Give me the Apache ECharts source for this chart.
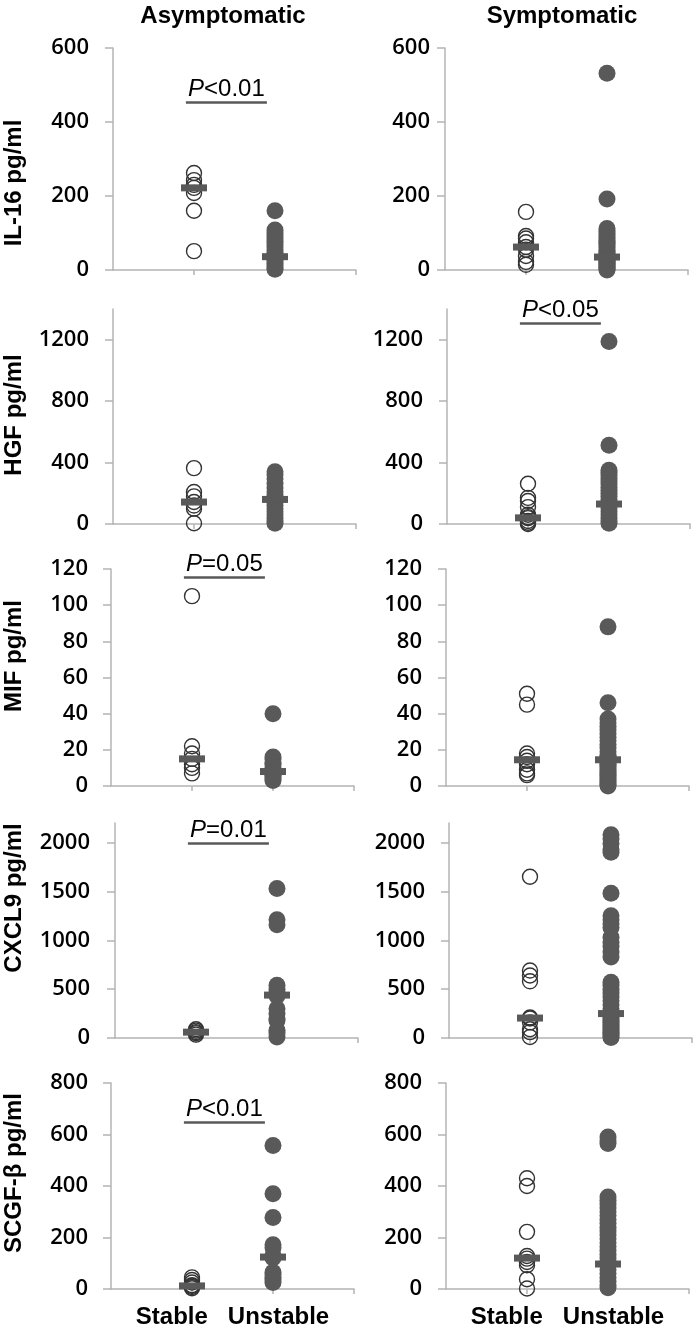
<!DOCTYPE html>
<html>
<head>
<meta charset="utf-8">
<script src="https://cdn.jsdelivr.net/npm/echarts@6/dist/echarts.min.js"></script>
<style>
html,body{margin:0;padding:0;background:#fff;}
#chart{width:697px;height:1331px;}
</style>
</head>
<body>
<div id="chart"></div>
<script>
// ---------- DATA ----------
const panelTitles = ['Asymptomatic', 'Symptomatic'];
const groups = ['Stable', 'Unstable'];
const markers = ['IL-16 pg/ml', 'HGF pg/ml', 'MIF pg/ml', 'CXCL9 pg/ml', 'SCGF-β pg/ml'];
const yMax = [600, 1400, 120, 2200, 800];
const yTicks = [
  [0, 200, 400, 600],
  [0, 400, 800, 1200],
  [0, 20, 40, 60, 80, 100, 120],
  [0, 500, 1000, 1500, 2000],
  [0, 200, 400, 600, 800]
];

// IL-16
const asymStable1 = [262, 243, 230, 222, 208, 160, 51];
const asymUnstable1 = [160, 108, 100, 92, 85, 78, 70, 62, 55, 48, 42, 36, 30, 24, 18, 12, 6, 2];
const symStable1 = [157, 92, 85, 75, 62, 55, 38, 22, 14];
const symUnstable1 = [532, 192, 112, 106, 100, 95, 90, 85, 80, 75, 70, 65, 60, 55, 50, 46, 42, 38, 35, 32, 30, 27, 24, 21, 18, 15, 12, 9, 6, 3, 0];
// HGF
const asymStable2 = [364, 208, 180, 143, 120, 100, 5];
const asymUnstable2 = [340, 320, 295, 265, 235, 210, 190, 170, 160, 140, 120, 100, 80, 60, 40, 20, 5];
const symStable2 = [262, 170, 150, 110, 60, 45, 38, 20, 8, 0];
const symUnstable2 = [1188, 513, 350, 335, 320, 300, 280, 260, 240, 220, 200, 180, 160, 140, 130, 120, 100, 80, 60, 40, 20, 5];
// MIF
const asymStable3 = [105, 22, 18, 15, 12, 10, 7];
const asymUnstable3 = [40, 16, 15, 13, 12, 10, 9, 8, 7, 6, 5, 4, 3];
const symStable3 = [51, 45, 18, 16, 14, 12, 9, 7, 6];
const symUnstable3 = [88, 46, 37, 35, 33, 31, 29, 27, 25, 23, 21, 19, 17, 16, 15, 14, 13, 12, 11, 10, 9, 8, 7, 6, 5, 4, 3, 2, 1, 0];
// CXCL9
const asymStable4 = [90, 75, 60, 50, 35];
const asymUnstable4 = [1530, 1210, 1160, 540, 500, 460, 430, 300, 250, 200, 180, 80, 50, 10];
const symStable4 = [1650, 690, 640, 580, 210, 200, 160, 90, 60, 10];
const symUnstable4 = [2080, 2040, 1990, 1930, 1900, 1480, 1250, 1210, 1170, 1130, 1030, 980, 940, 880, 830, 570, 540, 500, 460, 420, 380, 340, 300, 260, 240, 220, 200, 180, 160, 140, 120, 100, 80, 60, 40, 20, 5];
// SCGF-beta
const asymStable5 = [45, 35, 25, 15, 12, 8, 3];
const asymUnstable5 = [557, 370, 278, 172, 160, 130, 120, 65, 55, 45, 35, 25];
const symStable5 = [430, 400, 222, 128, 118, 105, 92, 38, 2];
const symUnstable5 = [590, 575, 565, 357, 345, 330, 315, 300, 285, 270, 255, 240, 225, 210, 195, 180, 165, 150, 135, 120, 105, 90, 75, 60, 45, 30, 15, 5];

// medians [stable, unstable]
const asymMedians = [[222, 36], [143, 160], [15, 8], [60, 439], [12, 124]];
const symMedians = [[62, 35], [40, 130], [14.5, 14.5], [204, 250], [120, 97]];

// significance annotations
const pRow = [0, 1, 2, 3, 4];
const pCol = [0, 1, 0, 0, 0];
const pText = ['<0.01', '<0.05', '=0.05', '=0.01', '<0.01'];
const pLineY = [454, 1305, 115.6, 1990, 648];
const pLineX = [0.9, 1.9];

// ---------- LAYOUT ----------
const stableData = [[asymStable1, symStable1], [asymStable2, symStable2], [asymStable3, symStable3], [asymStable4, symStable4], [asymStable5, symStable5]];
const unstableData = [[asymUnstable1, symUnstable1], [asymUnstable2, symUnstable2], [asymUnstable3, symUnstable3], [asymUnstable4, symUnstable4], [asymUnstable5, symUnstable5]];
const medians = [asymMedians, symMedians];

const rowTop = [48, 309, 569, 823, 1083];
const rowH = [222, 215, 217, 215, 206];
const colLeft = [[113, 445], [113, 447], [111, 446], [115, 449], [111, 446]];
const labelMargin = [[24, 15], [24, 24], [23, 24], [25, 24], [23, 24]];
const gridW = 243;
const nameCenterY = [183, 415, 656, 898, 1173];
const titleX = [223, 562];

const AX = '#b4b4b4';
const DARK = '#595959';
const tickFont = "'Open Sans', 'Liberation Sans', sans-serif";
const sansFont = "'Liberation Sans', Arial, sans-serif";

const grid = [], xAxis = [], yAxis = [], series = [], graphic = [];

for (let r = 0; r < 5; r++) {
  for (let c = 0; c < 2; c++) {
    const g = r * 2 + c;
    grid.push({left: colLeft[r][c], top: rowTop[r], width: gridW, height: rowH[r], containLabel: false});
    const xa = {
      gridIndex: g, type: 'value', min: 0, max: 3,
      axisLine: {show: true, onZero: false, lineStyle: {color: AX, width: 1.5}},
      axisTick: {show: true, customValues: [1, 2, 3], length: 5, lineStyle: {color: AX, width: 1.5}},
      axisLabel: {show: false},
      splitLine: {show: false}
    };
    if (r === 4) {
      xa.name = groups.join('   ');
      xa.nameLocation = 'middle';
      xa.nameGap = 16;
      xa.nameTextStyle = {fontFamily: sansFont, fontWeight: 'bold', fontSize: 24, color: '#000', verticalAlign: 'top'};
    }
    xAxis.push(xa);
    yAxis.push({
      gridIndex: g, type: 'value', min: 0, max: yMax[r],
      axisLine: {show: true, lineStyle: {color: AX, width: 1.5}},
      axisTick: {show: true, customValues: yTicks[r], length: 8, lineStyle: {color: AX, width: 1.5}},
      axisLabel: {customValues: yTicks[r], formatter: v => String(v), margin: labelMargin[r][c],
        fontFamily: tickFont, fontWeight: 600, fontSize: 22, color: '#000'},
      splitLine: {show: false}
    });
    series.push({
      type: 'scatter', xAxisIndex: g, yAxisIndex: g, silent: true,
      symbol: 'circle', symbolSize: 15,
      itemStyle: {color: 'rgba(0,0,0,0)', borderColor: '#333', borderWidth: 1.4, opacity: 1},
      data: stableData[r][c].map(v => [1, v]), z: 2
    });
    series.push({
      type: 'scatter', xAxisIndex: g, yAxisIndex: g, silent: true,
      symbol: 'circle', symbolSize: 17,
      itemStyle: {color: DARK, opacity: 1},
      data: unstableData[r][c].map(v => [2, v]), z: 3
    });
    const med = {
      type: 'scatter', xAxisIndex: g, yAxisIndex: g, silent: true,
      symbol: 'rect', symbolSize: [26, 7],
      itemStyle: {color: DARK, opacity: 1},
      data: medians[c][r].map((v, i) => [i + 1, v]), z: 4
    };
    const pi = pRow.findIndex((pr, k) => pr === r && pCol[k] === c);
    if (pi >= 0) {
      med.markLine = {
        silent: true, symbol: ['none', 'none'], animation: false,
        lineStyle: {color: DARK, width: 2.5, type: 'solid'},
        label: {
          show: true, position: 'insideMiddleTop', distance: 1,
          formatter: '{i|P}' + pText[pi],
          fontFamily: sansFont, fontSize: 24, color: '#000',
          rich: {i: {fontStyle: 'italic', fontFamily: sansFont, fontSize: 24, color: '#000'}}
        },
        data: [[{coord: [pLineX[0], pLineY[pi]]}, {coord: [pLineX[1], pLineY[pi]]}]]
      };
    }
    series.push(med);
  }
  graphic.push({
    type: 'text', x: 14, y: nameCenterY[r], rotation: Math.PI / 2,
    style: {text: markers[r], font: "bold 24px 'Liberation Sans', Arial, sans-serif", fill: '#000',
      align: 'center', verticalAlign: 'middle', textAlign: 'center', textVerticalAlign: 'middle'}
  });
}
for (let c = 0; c < 2; c++) {
  graphic.push({
    type: 'text', x: titleX[c], y: 16,
    style: {text: panelTitles[c], font: "bold 24px 'Liberation Sans', Arial, sans-serif", fill: '#000',
      align: 'center', verticalAlign: 'middle', textAlign: 'center', textVerticalAlign: 'middle'}
  });
}

const chart = echarts.init(document.getElementById('chart'), null, {renderer: 'canvas'});
chart.setOption({
  backgroundColor: '#fff',
  animation: false,
  grid, xAxis, yAxis, series, graphic
});
</script>
</body>
</html>
